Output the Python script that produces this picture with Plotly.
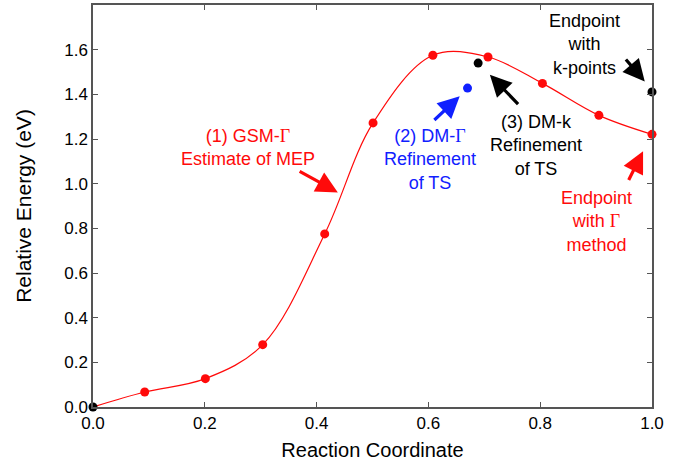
import plotly.graph_objects as go

# Reaction path (GSM-Gamma estimate of the MEP)
path_x = [0.0, 0.0925, 0.201, 0.3036, 0.4145, 0.501, 0.608, 0.7066, 0.804, 0.905, 1.0]
path_y = [0.0, 0.067, 0.127, 0.279, 0.775, 1.272, 1.575, 1.567, 1.449, 1.306, 1.221]

# DM-Gamma refinement of TS
dmg_x = [0.670]
dmg_y = [1.428]

# Black points: start, DM-k refined TS, endpoint with k-points
blk_x = [0.0, 0.689, 1.0]
blk_y = [0.0, 1.540, 1.411]

x_ticks = [0.0, 0.2, 0.4, 0.6, 0.8, 1.0]
y_ticks = [0.0, 0.2, 0.4, 0.6, 0.8, 1.0, 1.2, 1.4, 1.6]

FONT = "Liberation Sans, Arial, sans-serif"
G = '<span style="font-family:Liberation Serif">Γ</span>'
RED = "#ff0a0a"
BLUE = "#1020ff"

fig = go.Figure()
fig.add_trace(go.Scatter(x=path_x, y=path_y, mode="lines", line=dict(color=RED, width=1.2, shape="spline", smoothing=1.0),
                         hoverinfo="skip", showlegend=False, cliponaxis=False))
fig.add_trace(go.Scatter(x=path_x[1:], y=path_y[1:], mode="markers", marker=dict(color=RED, size=9),
                         showlegend=False, cliponaxis=False))
fig.add_trace(go.Scatter(x=dmg_x, y=dmg_y, mode="markers", marker=dict(color=BLUE, size=9),
                         showlegend=False, cliponaxis=False))
fig.add_trace(go.Scatter(x=blk_x, y=blk_y, mode="markers", marker=dict(color="black", size=9),
                         showlegend=False, cliponaxis=False))

ann = []
def label(text, x, y, color):
    ann.append(dict(text=text, x=x, y=y, xref="x", yref="y", showarrow=False,
                    font=dict(family=FONT, size=18, color=color), align="center"))

def arrow(tx, ty, hx, hy, color):
    ann.append(dict(text="", x=hx, y=hy, ax=tx, ay=ty, xref="x", yref="y", axref="x", ayref="y",
                    showarrow=True, arrowhead=2, arrowsize=1.35, arrowwidth=3.2, arrowcolor=color,
                    standoff=0, startstandoff=0))

label("(1) GSM-" + G + "<br>Estimate of MEP", 0.277, 1.161, RED)
arrow(0.367, 1.059, 0.438, 0.961, RED)
label("(2) DM-" + G + "<br>Refinement<br>of TS", 0.602, 1.107, BLUE)
arrow(0.608, 1.279, 0.656, 1.391, BLUE)
label("(3) DM-k<br>Refinement<br>of TS", 0.793, 1.171, "black")
arrow(0.763, 1.349, 0.710, 1.488, "black")
label("Endpoint<br>with<br>k-points", 0.880, 1.622, "black")
arrow(0.951, 1.563, 0.987, 1.458, "black")
label("Endpoint<br>with " + G + "<br>method", 0.900, 0.831, RED)
arrow(0.957, 1.010, 0.984, 1.145, RED)

axis_common = dict(showgrid=False, zeroline=False, showline=True, linecolor="#555555", linewidth=1.5,
                   ticks="inside", ticklen=5, tickwidth=1.2, tickcolor="#555555", mirror="ticks",
                   tickfont=dict(family=FONT, size=17, color="black"), automargin=False)

fig.update_layout(
    width=674, height=462,
    margin=dict(l=93, r=22, t=5, b=55),
    paper_bgcolor="white", plot_bgcolor="white",
    font=dict(family=FONT, color="black"),
    xaxis=dict(range=[0, 1.0], tickvals=x_ticks, ticktext=[f"{v:.1f}" for v in x_ticks],
               title=dict(text="Reaction Coordinate", font=dict(family=FONT, size=20), standoff=11),
               **axis_common),
    yaxis=dict(range=[0, 1.8], tickvals=y_ticks, ticktext=[f"{v:.1f}" for v in y_ticks],
               title=dict(text="Relative Energy (eV)", font=dict(family=FONT, size=21), standoff=27),
               **axis_common),
    annotations=ann,
)

fig.write_html("out.html")
